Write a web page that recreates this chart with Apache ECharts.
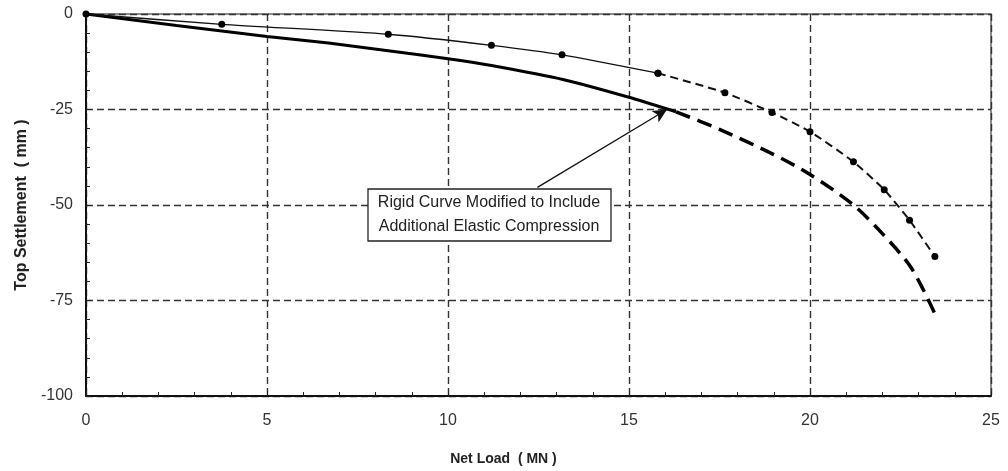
<!DOCTYPE html>
<html>
<head>
<meta charset="utf-8">
<script src="https://cdn.jsdelivr.net/npm/echarts@6/dist/echarts.min.js"></script>
<style>html,body{margin:0;padding:0;background:#fff}#c{width:1008px;height:471px}</style>
</head>
<body>
<div id="c"></div>
<script>
// Measured load-settlement curve (thin, with dots)
const measuredLoad   = [0, 3.75, 8.35, 11.2, 13.15, 15.8, 17.65, 18.95, 20.0, 21.2, 22.05, 22.75, 23.45];
const measuredSettle = [0, -2.7, -5.3, -8.2, -10.7, -15.5, -20.6, -25.8, -30.8, -38.7, -46.0, -54.0, -63.5];
const measuredBreak  = 5; // index where the line changes from solid to dashed

// Rigid curve modified (thick)
const rigidLoad   = [0, 2.5, 5, 6.7, 8.4, 10, 11.2, 13.2, 15.0, 16.3, 17.5, 19.0, 20.0, 21.2, 22.0, 22.8, 23.45];
const rigidSettle = [0, -3.0, -5.9, -7.6, -9.7, -11.7, -13.5, -17.2, -21.8, -25.6, -30.2, -36.8, -42.0, -50.0, -57.5, -66.5, -78.5];
const rigidBreak  = 9;

const xTicks = [0, 5, 10, 15, 20, 25];
const yTicks = [0, -25, -50, -75, -100];

const annotationLines = ['Rigid Curve Modified to Include', 'Additional Elastic Compression'];
const arrowFrom = [12.47, -45.4];
const arrowTo   = [16.05, -25.0];

function pairs(xs, ys, a, b) {
  const out = [];
  for (let i = a; i <= b; i++) out.push([xs[i], ys[i]]);
  return out;
}

const chart = echarts.init(document.getElementById('c'), null, {renderer: 'canvas'});
const font = 'Liberation Sans, Arial, sans-serif';

chart.setOption({
  animation: false,
  backgroundColor: '#fff',
  grid: {left: 86, right: 17, top: 14, bottom: 73, show: true, borderColor: '#666', borderWidth: 1.5},
  xAxis: {
    type: 'value', min: xTicks[0], max: xTicks[xTicks.length - 1], interval: 5,
    name: 'Net Load  ( MN )', nameLocation: 'middle', nameGap: 56,
    nameTextStyle: {fontFamily: font, fontWeight: 'bold', fontSize: 14, color: '#222', padding: [0, 70, 0, 0]},
    axisLine: {show: true, onZero: false, lineStyle: {color: '#111', width: 2}},
    axisTick: {show: true, inside: true, length: 5, lineStyle: {color: '#222'}},
    minorTick: {show: true, splitNumber: 5, length: 4, lineStyle: {color: '#222', width: 1}},
    axisLabel: {fontFamily: font, fontSize: 16, color: '#333', margin: 17},
    splitLine: {show: true, lineStyle: {color: '#333', type: [7, 4], width: 1.4}}
  },
  yAxis: {
    type: 'value', min: yTicks[yTicks.length - 1], max: yTicks[0], interval: 25,
    name: 'Top Settlement  ( mm )', nameLocation: 'middle', nameGap: 55, nameRotate: 90,
    nameTextStyle: {fontFamily: font, fontWeight: 'bold', fontSize: 16, color: '#222'},
    axisLine: {show: true, onZero: false, lineStyle: {color: '#111', width: 2}},
    axisTick: {show: true, inside: true, length: 5, lineStyle: {color: '#222'}},
    minorTick: {show: true, splitNumber: 5, length: 4, lineStyle: {color: '#222', width: 1}},
    axisLabel: {fontFamily: font, fontSize: 16, color: '#333', margin: 13},
    splitLine: {show: true, lineStyle: {color: '#333', type: [7, 4], width: 1.4}}
  },
  series: [
    {
      type: 'line', name: 'rigidSolid',
      data: pairs(rigidLoad, rigidSettle, 0, rigidBreak),
      showSymbol: false, symbol: 'none', smooth: 0.2,
      lineStyle: {color: '#000', width: 3}, z: 3
    },
    {
      type: 'line', name: 'rigidDashed',
      data: pairs(rigidLoad, rigidSettle, rigidBreak, rigidLoad.length - 1),
      showSymbol: false, symbol: 'none', smooth: 0.3,
      lineStyle: {color: '#000', width: 3.5, type: [15, 8]}, z: 3
    },
    {
      type: 'line', name: 'measuredSolid',
      data: pairs(measuredLoad, measuredSettle, 0, measuredBreak),
      symbol: 'circle', symbolSize: 7, smooth: 0.2,
      itemStyle: {color: '#000'},
      lineStyle: {color: '#111', width: 1.3}, z: 4
    },
    {
      type: 'line', name: 'measuredDashed',
      data: pairs(measuredLoad, measuredSettle, measuredBreak, measuredLoad.length - 1),
      symbol: 'circle', symbolSize: 7, smooth: 0.2,
      itemStyle: {color: '#000'},
      lineStyle: {color: '#111', width: 2, type: [8, 5]}, z: 4,
      markLine: {
        silent: true, symbol: ['none', 'arrow'], symbolSize: [10, 14],
        label: {show: false},
        lineStyle: {color: '#111', width: 1.3, type: 'solid'},
        data: [[{coord: arrowFrom}, {coord: arrowTo}]]
      }
    }
  ],
  graphic: [
    {type: 'rect', z: 100,
     shape: {x: 368, y: 189, width: 243, height: 52},
     style: {fill: '#ffffff', stroke: '#222', lineWidth: 1.3}},
    {type: 'text', z: 101,
     style: {x: 489, y: 203, text: annotationLines[0], align: 'center', verticalAlign: 'middle',
       font: '16px ' + font, fill: '#222'}},
    {type: 'text', z: 101,
     style: {x: 489, y: 227, text: annotationLines[1], align: 'center', verticalAlign: 'middle',
       font: '16px ' + font, fill: '#222'}}
  ]
});
</script>
</body>
</html>
